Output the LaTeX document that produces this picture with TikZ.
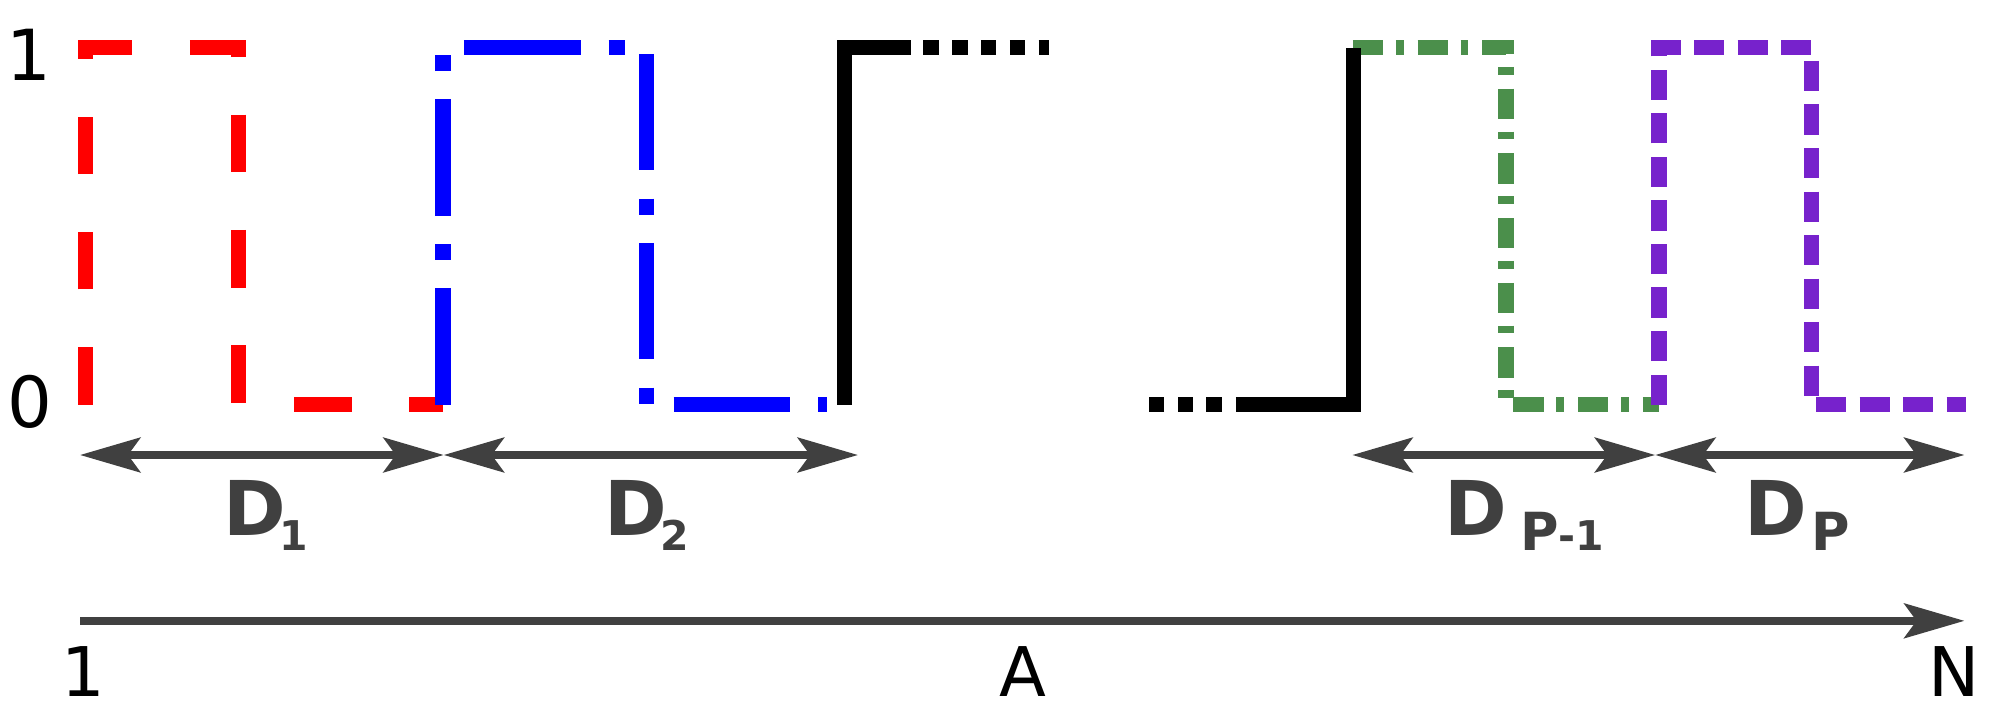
\documentclass[tikz,border=0pt]{standalone}
\usepackage{fontspec}
\setmainfont{DejaVu Sans}
\usetikzlibrary{arrows.meta}
\definecolor{sgreen}{HTML}{4B8F4B}
\definecolor{spurple}{HTML}{7722CC}
\definecolor{agray}{HTML}{404040}
\newcommand{\lsubtxt}[2][32]{\raisebox{-11.5pt}{\fontsize{#1}{#1}\selectfont #2}}
\begin{document}
\begin{tikzpicture}[x=1pt,y=-1pt,
  pulse/.style={line width=12pt},
  darrow/.style={agray,line width=6pt,{Stealth[length=47pt,width=27pt,inset=9.6pt]}-{Stealth[length=47pt,width=27pt,inset=9.6pt]}},
  axarrow/.style={agray,line width=6pt,-{Stealth[length=47pt,width=27pt,inset=9.6pt]}},
  lvl/.style={inner sep=0pt,font=\fontsize{55}{60}\selectfont,text=black},
  axl/.style={inner sep=0pt,font=\fontsize{53.5}{60}\selectfont,text=black},
  lbl/.style={inner sep=0pt,font=\fontsize{59}{60}\selectfont\bfseries,text=agray}]
\useasboundingbox (0,0) rectangle (1568,561);
% level labels
\node[lvl,anchor=base] (one) at (22.6,63.2) {1};
\node[lvl,anchor=base] (zero) at (23,334) {0};
% pulses
\draw[pulse,red,dash pattern=on 45pt off 45pt] (67,316)--(67,37.3)--(186,37.3)--(186,316)--(346,316);
\draw[pulse,blue,dash pattern=on 91pt off 22pt on 12.5pt off 22pt] (346,316)--(346,37.3)--(505,37.3)--(505,316)--(646,316);
\draw[pulse,black] (659.5,316)--(659.5,37.3)--(711,37.3);
\draw[pulse,black,dash pattern=on 12pt off 10.5pt] (721,37.3)--(819,37.3);
\draw[pulse,black,dash pattern=on 12pt off 10.5pt] (954,316)--(897,316);
\draw[pulse,sgreen,dash pattern=on 23.5pt off 10pt on 6pt off 11pt] (1056.5,37.3)--(1176,37.3)--(1176,316)--(1295.5,316);
\draw[pulse,black] (965,316)--(1057,316)--(1057,37.3);
\draw[pulse,spurple,dash pattern=on 23.5pt off 10.5pt] (1295.5,316)--(1295.5,37.3)--(1414.5,37.3)--(1414.5,316)--(1535,316);
% span arrows
\coordinate (d1a) at (62.5,355.3);
\coordinate (d1b) at (346.5,355.3);
\coordinate (d2b) at (670,355.3);
\coordinate (dpa) at (1056,355.3);
\coordinate (dpm) at (1292.5,355.3);
\coordinate (dpb) at (1534,355.3);
\draw[darrow] (d1a) -- (d1b);
\draw[darrow] (d1b) -- (d2b);
\draw[darrow] (dpa) -- (dpm);
\draw[darrow] (dpm) -- (dpb);
% span labels
\node[lbl,anchor=base west] (lD1) at (174,418) {D\kern-5pt\lsubtxt{1}};
\node[lbl,anchor=base west] (lD2) at (471.8,418) {D\kern-5pt\lsubtxt{2}};
\node[lbl,anchor=base west] (lDp1) at (1127.8,418) {D\kern10pt\lsubtxt[41]{P}\lsubtxt{-1}};
\node[lbl,anchor=base west] (lDp) at (1362.1,418) {D\kern3pt\lsubtxt[41]{P}};
% index axis
\coordinate (ax0) at (62.5,484.8);
\coordinate (ax1) at (1534,484.8);
\draw[axarrow] (ax0) -- (ax1);
\node[axl,anchor=base] (idx1) at (65,544) {1};
\node[axl,anchor=base] (idxA) at (799,544) {A};
\node[axl,anchor=base] (idxN) at (1526,544) {N};
\end{tikzpicture}
\end{document}
